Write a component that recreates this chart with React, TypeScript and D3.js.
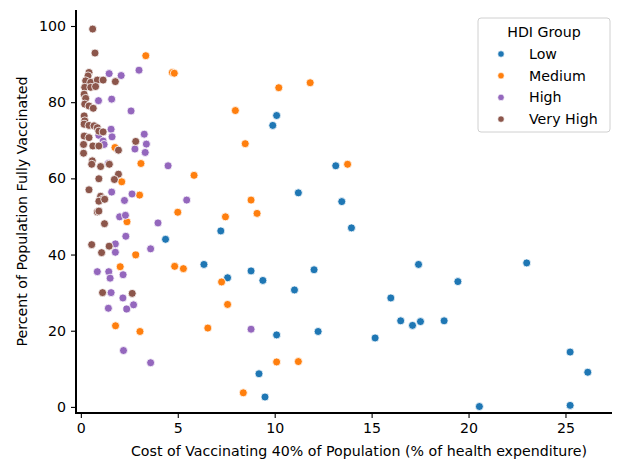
import React, { useEffect, useRef } from 'react';
import * as d3 from 'd3';

// [cost % of health expenditure, % fully vaccinated]
const lowPoints: [number, number][] = [
  [4.37, 44], [6.35, 37.4], [7.22, 46.2], [7.57, 33.9], [8.78, 35.7], [9.39, 33.2],
  [9.9, 73.9], [10.1, 76.5], [11.02, 30.7], [11.22, 56.2], [12.03, 36.0], [12.24, 19.8],
  [13.15, 63.3], [13.46, 53.9], [13.96, 47.0], [15.18, 18.1], [15.99, 28.6], [16.5, 22.6],
  [17.11, 21.4], [17.52, 22.4], [17.42, 37.4], [18.74, 22.6], [19.45, 32.9], [23.0, 37.8],
  [25.24, 14.4], [26.15, 9.1], [20.56, 0.1], [25.24, 0.4], [9.19, 8.7], [9.5, 2.6], [10.1, 18.9],
];

const mediumPoints: [number, number][] = [
  [3.35, 92.2], [4.72, 87.8], [4.82, 87.6], [1.76, 68.1], [3.1, 63.9], [2.11, 59.1],
  [3.03, 55.6], [5.0, 51.1], [2.38, 48.6], [2.83, 39.9], [2.03, 36.8], [4.84, 36.9],
  [5.29, 36.3], [1.79, 21.3], [3.05, 19.8], [5.84, 60.8], [7.97, 77.8], [8.48, 69.1],
  [10.21, 83.8], [11.83, 85.1], [13.76, 63.7], [7.46, 49.9], [9.09, 50.8], [8.78, 54.3],
  [7.26, 32.8], [7.57, 26.9], [6.55, 20.7], [10.1, 11.8], [11.22, 11.9], [8.38, 3.7],
];

const highPoints: [number, number][] = [
  [1.46, 87.5], [2.08, 87.0], [3.0, 88.4], [0.91, 80.4], [1.59, 80.8], [2.59, 77.7],
  [1.56, 72.9], [1.61, 70.9], [0.93, 71.3], [1.15, 69.8], [1.2, 68.9], [3.27, 71.6],
  [3.38, 69.0], [2.79, 67.7], [3.32, 66.8], [1.42, 63.9], [4.5, 63.3], [1.59, 56.4],
  [2.64, 55.9], [2.25, 54.2], [5.46, 54.3], [2.0, 49.9], [2.3, 50.3], [3.98, 48.3],
  [2.32, 44.8], [1.78, 42.8], [1.78, 40.6], [3.6, 41.5], [0.85, 35.5], [1.44, 35.5],
  [1.51, 33.8], [2.18, 34.7], [1.56, 30.0], [2.17, 28.6], [1.42, 25.9], [2.37, 25.7],
  [2.72, 26.8], [2.2, 14.8], [3.6, 11.6], [8.78, 20.4],
];

const veryHighPoints: [number, number][] = [
  [0.61, 99.2], [0.73, 92.9], [0.42, 87.8], [0.37, 86.9], [0.25, 85.6], [0.51, 85.2],
  [0.85, 85.8], [1.15, 85.8], [1.78, 85.4], [0.2, 83.9], [0.51, 83.9], [0.76, 84.1],
  [0.17, 82.1], [0.25, 81.0], [0.2, 79.5], [0.42, 79.0], [0.64, 78.4], [0.17, 76.4],
  [0.2, 75.1], [0.17, 74.2], [0.42, 73.9], [0.68, 73.8], [0.85, 73.3], [0.93, 72.4],
  [1.15, 72.2], [0.17, 71.1], [0.42, 70.7], [0.14, 68.9], [0.62, 68.5], [0.93, 68.5],
  [2.83, 69.7], [1.94, 67.4], [0.14, 66.6], [0.59, 64.6], [0.56, 63.7], [1.02, 63.1],
  [1.47, 63.7], [1.94, 61.1], [1.73, 59.7], [0.93, 59.9], [0.42, 57.0], [1.02, 55.3],
  [1.15, 54.6], [0.93, 54.0], [1.23, 54.5], [0.85, 51.2], [0.93, 51.4], [1.22, 48.1],
  [0.56, 42.6], [1.07, 40.5], [1.46, 42.2], [1.12, 30.0], [2.65, 29.8],
];

const groups = ['Low', 'Medium', 'High', 'Very High'];
const groupColors = ['#1f77b4', '#ff7f0e', '#9467bd', '#8c564b'];
const groupPoints = [lowPoints, mediumPoints, highPoints, veryHighPoints];

const xTicks = [0, 5, 10, 15, 20, 25];
const yTicks = [0, 20, 40, 60, 80, 100];

const W = 618;
const H = 459;
const FONT = '"DejaVu Sans", sans-serif';
const FS = '14.2px';

export default function App() {
  const ref = useRef<SVGSVGElement>(null);

  useEffect(() => {
    if (!ref.current) return;
    const svg = d3.select(ref.current);
    svg.selectAll('*').remove();

    const left = 76, right = 612, top = 10, bottom = 413;

    const x = d3.scaleLinear().domain([-0.25, 27.4]).range([left, right]);
    const y = d3.scaleLinear().domain([-1.6, 104.2]).range([bottom, top]);

    // 1) POINTS
    const pts = groups.flatMap((g, gi) =>
      groupPoints[gi].map(([px, py]) => ({ px, py, color: groupColors[gi] }))
    );
    svg.append('g')
      .selectAll('circle')
      .data(pts)
      .enter()
      .append('circle')
      .attr('cx', d => x(d.px))
      .attr('cy', d => y(d.py))
      .attr('r', 4)
      .attr('fill', d => d.color)
      .attr('stroke', 'white')
      .attr('stroke-width', 0.8);

    // 2) AXES
    const xAxis = svg.append('g')
      .attr('transform', `translate(0,${bottom})`)
      .call(d3.axisBottom(x).tickValues(xTicks).tickSize(5).tickPadding(5).tickFormat(d3.format('d')));
    const yAxis = svg.append('g')
      .attr('transform', `translate(${left},0)`)
      .call(d3.axisLeft(y).tickValues(yTicks).tickSize(5).tickPadding(5).tickFormat(d3.format('d')));

    [xAxis, yAxis].forEach(a => {
      a.select('.domain').attr('stroke', '#000').attr('stroke-width', 2);
      a.selectAll('.tick line').attr('stroke', '#000').attr('stroke-width', 1.1);
      a.selectAll('.tick text')
        .attr('font-family', FONT)
        .attr('font-size', FS)
        .attr('fill', '#000');
    });
    xAxis.select('.domain').attr('d', `M${left - 1},0H${right}`);
    yAxis.select('.domain').attr('d', `M0,${bottom + 1}V${top}`);

    // 3) AXIS LABELS
    svg.append('text')
      .attr('x', 359)
      .attr('y', 456)
      .attr('text-anchor', 'middle')
      .attr('font-family', FONT)
      .attr('font-size', FS)
      .text('Cost of Vaccinating 40% of Population (% of health expenditure)');

    svg.append('text')
      .attr('transform', `translate(27,${(top + bottom) / 2}) rotate(-90)`)
      .attr('text-anchor', 'middle')
      .attr('font-family', FONT)
      .attr('font-size', FS)
      .text('Percent of Population Fully Vaccinated');

    // 4) LEGEND
    const lg = svg.append('g').attr('transform', 'translate(478,18)');
    lg.append('rect')
      .attr('width', 132)
      .attr('height', 114)
      .attr('rx', 3)
      .attr('fill', 'white')
      .attr('fill-opacity', 0.8)
      .attr('stroke', '#d0d0d0')
      .attr('stroke-width', 1);
    lg.append('text')
      .attr('x', 66)
      .attr('y', 19)
      .attr('text-anchor', 'middle')
      .attr('font-family', FONT)
      .attr('font-size', FS)
      .text('HDI Group');
    groups.forEach((g, i) => {
      const cy = 36 + i * 21.7;
      lg.append('circle')
        .attr('cx', 23)
        .attr('cy', cy)
        .attr('r', 3.2)
        .attr('fill', groupColors[i])
        .attr('stroke', 'white')
        .attr('stroke-width', 0.6);
      lg.append('text')
        .attr('x', 51)
        .attr('y', cy + 5)
        .attr('font-family', FONT)
        .attr('font-size', FS)
        .text(g);
    });
  }, []);

  return (
    <svg ref={ref} width={W} height={H} style={{ position: 'absolute', left: 0, top: 0, background: 'white' }} />
  );
}
